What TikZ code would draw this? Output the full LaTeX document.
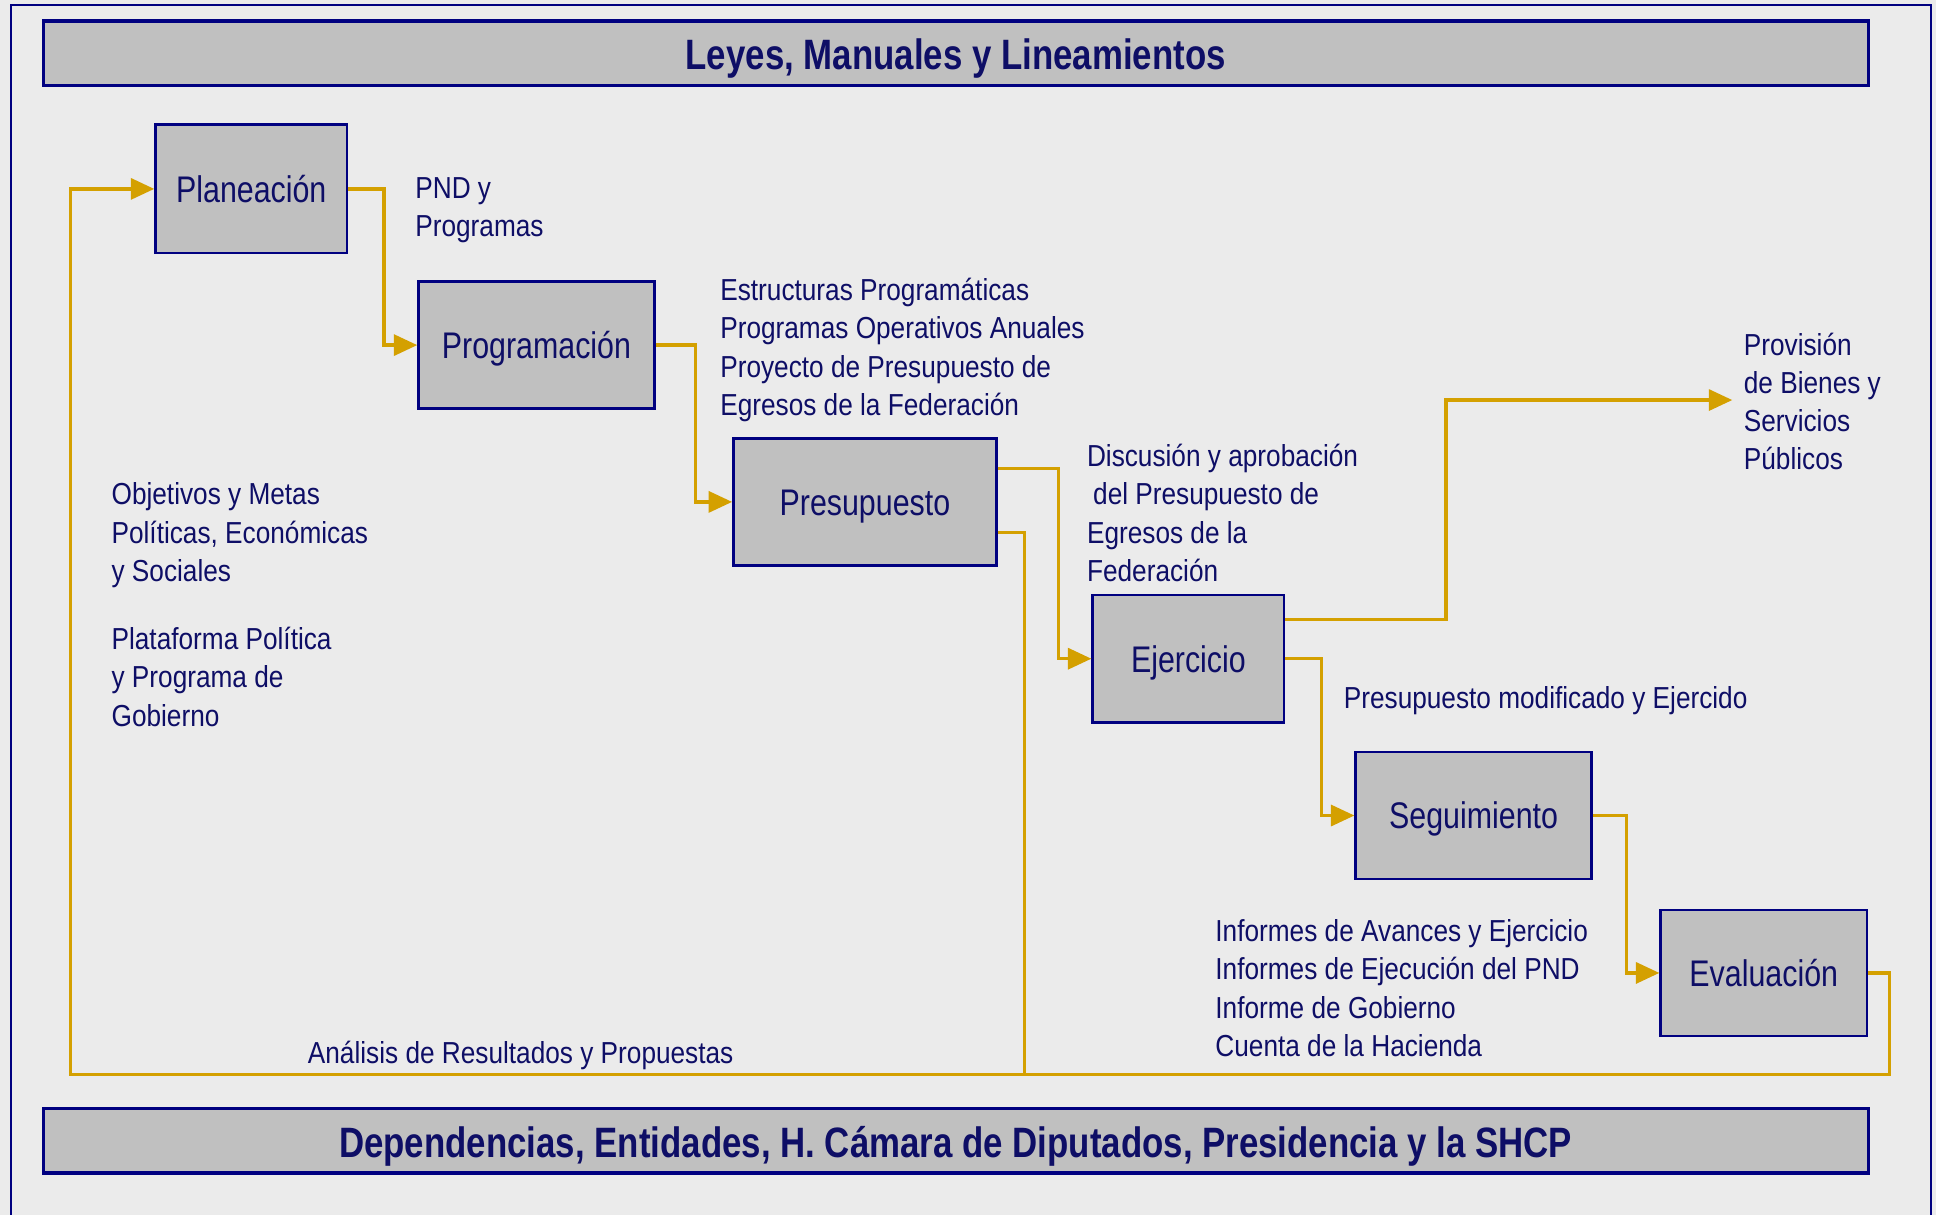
\documentclass[tikz,border=0pt]{standalone}
\usepackage{fontspec}
\setmainfont{Liberation Sans}[FakeStretch=0.82]
\newfontfamily\lblfont{Liberation Sans}[FakeStretch=0.863]
\usetikzlibrary{arrows.meta}
\definecolor{bgc}{HTML}{EBEBEB}
\definecolor{boxc}{HTML}{C0C0C0}
\definecolor{navyb}{HTML}{000080}
\definecolor{txtc}{HTML}{0E0E66}
\definecolor{goldc}{HTML}{D4A000}
\tikzset{
  stepbox/.style={draw=navyb, line width=1.05pt, fill=boxc, inner sep=0pt, text=txtc,
    text height=10.8pt, text depth=0pt,
    font=\fontsize{15pt}{18pt}\selectfont},
  banner/.style={draw=navyb, line width=1.3pt, fill=boxc, inner sep=0pt, text=txtc,
    text height=13.6pt, text depth=0pt,
    minimum width=739pt, minimum height=26pt, font=\bfseries\fontsize{17.2pt}{20pt}\selectfont},
  lbl/.style={anchor=base west, inner sep=0pt, align=left, text=txtc,
    font=\lblfont\fontsize{12.3pt}{15.5pt}\selectfont},
  conn/.style={draw=goldc, line width=1.35pt},
  arr/.style={conn, -{Triangle[length=9.5pt,width=8.5pt]}},
}
\begin{document}
\begin{tikzpicture}[x=0.5pt,y=-0.5pt]
\useasboundingbox (0,0) rectangle (1568,984);
\fill[bgc] (0,0) rectangle (1568,984);
\clip (0,0) rectangle (1568,984);
\draw[navyb, line width=1pt] (9,4) rectangle (1564,1000);

\node[banner] (top) at (774,43) {Leyes, Manuales y Lineamientos};
\node[banner] (bot) at (774,924) {Dependencias, Entidades, H. Cámara de Diputados, Presidencia y la SHCP};

\node[stepbox, minimum width=77.5pt, minimum height=52pt] (plan) at (203.5,153) {Planeación};
\node[stepbox, minimum width=95.5pt, minimum height=51.5pt] (prog) at (434.5,279.5) {Programación};
\node[stepbox, minimum width=106.5pt, minimum height=51.5pt] (pres) at (700.5,406.5) {Presupuesto};
\node[stepbox, minimum width=77.5pt, minimum height=51.5pt] (ejer) at (962.5,533.5) {Ejercicio};
\node[stepbox, minimum width=95.5pt, minimum height=51.5pt] (segu) at (1193.5,660.5) {Seguimiento};
\node[stepbox, minimum width=83.5pt, minimum height=51pt] (eval) at (1428.5,788) {Evaluación};

% anchor = baseline of the last line
\node[lbl] (l1) at (336,191.8) {PND y\\Programas};
\node[lbl] (l2) at (583,336.4) {Estructuras Programáticas\\Programas Operativos Anuales\\Proyecto de Presupuesto de\\Egresos de la Federación};
\node[lbl] (prov) at (1412,380.6) {Provisión\\de Bienes y\\Servicios\\Públicos};
\node[lbl] (l4) at (880,471) {Discusión y aprobación\\\hspace{2.5pt}del Presupuesto de\\Egresos de la\\Federación};
\node[lbl] (l5) at (90,471) {Objetivos y Metas\\Políticas, Económicas\\y Sociales};
\node[lbl] (l6) at (90,588) {Plataforma Política\\y Programa de\\Gobierno};
\node[lbl] (l7) at (1088,574) {Presupuesto modificado y Ejercido};
\node[lbl] (l8) at (984,855.7) {Informes de Avances y Ejercicio\\Informes de Ejecución del PND\\Informe de Gobierno\\Cuenta de la Hacienda};
\node[lbl] (l9) at (249,861) {Análisis de Resultados y Propuestas};

\coordinate (provin) at (1403,324);
\coordinate (loopL) at (57,870);
\coordinate (join) at (830,870);

\draw[arr] (plan.east) -- ++(29,0) |- (prog.west);
\draw[arr] (prog.east) -- ++(32,0) |- (pres.west);
\draw[arr] ([yshift=13.5pt]pres.east) -- ++(49,0) |- (ejer.west);
\draw[conn] ([yshift=-12.5pt]pres.east) -| (join);
\draw[arr] ([yshift=16pt]ejer.east) -- ++(130,0) |- (provin);
\draw[arr] (ejer.east) -- ++(29,0) |- (segu.west);
\draw[arr] (segu.east) -- ++(27,0) |- (eval.west);
\draw[arr] (eval.east) -- ++(17,0) |- (loopL) |- (plan.west);
\end{tikzpicture}
\end{document}
